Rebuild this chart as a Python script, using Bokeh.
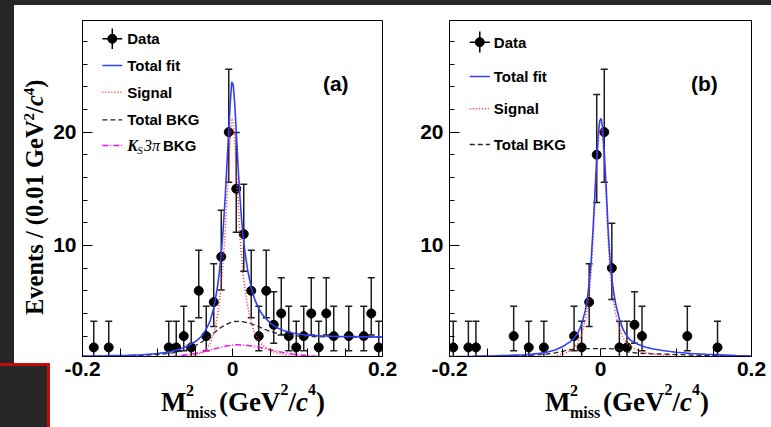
from bokeh.plotting import figure
from bokeh.models import Range1d, FixedTicker, Label, ColumnDataSource, Div
from bokeh.layouts import row, column
from bokeh.embed import file_html
from bokeh.resources import INLINE

# ---------------- DATA : panel (a) ----------------
a_x = [-0.185, -0.165, -0.085, -0.075, -0.065, -0.055, -0.045, -0.035, -0.025, -0.015,
       -0.005, 0.005, 0.015, 0.025, 0.035, 0.045, 0.055, 0.065, 0.075, 0.085,
       0.095, 0.105, 0.115, 0.125, 0.135, 0.155, 0.175, 0.185, 0.195]
a_n = [1, 1, 1, 1, 2, 1, 6, 2, 5, 9, 20, 15, 11, 6, 2, 6, 3, 4, 2, 1, 2, 4, 1, 4, 2, 2, 2, 4, 1]
a_lo = [0.17, 0.17, 0.17, 0.17, 0.71, 0.17, 3.62, 0.71, 2.84, 6.06, 15.57, 11.17, 7.73, 3.62, 0.71,
        3.62, 1.37, 2.09, 0.71, 0.17, 0.71, 2.09, 0.17, 2.09, 0.71, 0.71, 0.71, 2.09, 0.17]
a_hi = [3.30, 3.30, 3.30, 3.30, 4.64, 3.30, 9.58, 4.64, 8.38, 13.11, 25.54, 19.96, 15.41, 9.58, 4.64,
        9.58, 5.92, 7.16, 4.64, 3.30, 4.64, 7.16, 3.30, 7.16, 4.64, 4.64, 4.64, 7.16, 3.30]

curve_x = [-0.200, -0.170, -0.140, -0.120, -0.100, -0.090, -0.080, -0.070, -0.060, -0.050,
           -0.045, -0.040, -0.035, -0.030, -0.025, -0.020, -0.0175, -0.015, -0.0125, -0.010,
           -0.0075, -0.005, -0.003, -0.001, 0.001, 0.003, 0.005, 0.0075, 0.010, 0.0125,
           0.015, 0.0175, 0.020, 0.025, 0.030, 0.035, 0.040, 0.050, 0.060, 0.070,
           0.080, 0.090, 0.100, 0.120, 0.140, 0.160, 0.180, 0.200]
a_sig = [0.03, 0.03, 0.04, 0.05, 0.09, 0.11, 0.14, 0.19, 0.25, 0.35,
         0.43, 0.58, 0.85, 1.30, 2.20, 3.80, 5.00, 6.50, 8.50, 11.0,
         14.0, 17.0, 19.4, 21.2, 20.9, 19.2, 16.8, 13.6, 10.9, 8.7,
         7.0, 5.8, 4.7, 3.2, 2.2, 1.6, 1.2, 0.75, 0.50, 0.34,
         0.24, 0.17, 0.12, 0.07, 0.04, 0.03, 0.02, 0.01]
a_bkg = [0.20, 0.23, 0.27, 0.31, 0.37, 0.43, 0.52, 0.66, 0.88, 1.15,
         1.32, 1.52, 1.76, 2.00, 2.25, 2.55, 2.67, 2.78, 2.88, 2.97,
         3.05, 3.13, 3.19, 3.23, 3.26, 3.29, 3.30, 3.30, 3.29, 3.27,
         3.25, 3.22, 3.18, 3.09, 2.97, 2.83, 2.68, 2.42, 2.22, 2.10,
         2.03, 1.99, 1.97, 1.94, 1.93, 1.92, 1.91, 1.90]
a_tot = [0.23, 0.26, 0.31, 0.36, 0.46, 0.54, 0.66, 0.85, 1.13, 1.50,
         1.75, 2.10, 2.61, 3.30, 4.45, 6.35, 7.67, 9.28, 11.38, 13.97,
         17.05, 20.13, 22.59, 24.43, 24.16, 22.49, 20.10, 16.90, 14.19, 11.97,
         10.25, 9.02, 7.88, 6.29, 5.17, 4.43, 3.88, 3.17, 2.72, 2.44,
         2.27, 2.16, 2.09, 2.01, 1.97, 1.95, 1.93, 1.91]
a_ks = [0.00, 0.00, 0.01, 0.04, 0.10, 0.14, 0.20, 0.27, 0.36, 0.47,
        0.54, 0.61, 0.69, 0.77, 0.86, 0.94, 0.98, 1.02, 1.06, 1.10,
        1.13, 1.16, 1.18, 1.20, 1.21, 1.22, 1.23, 1.23, 1.22, 1.21,
        1.20, 1.19, 1.17, 1.13, 1.08, 1.02, 0.95, 0.80, 0.65, 0.52,
        0.42, 0.34, 0.27, 0.16, 0.08, 0.03, 0.01, 0.00]

# ---------------- DATA : panel (b) ----------------
b_x = [-0.195, -0.175, -0.165, -0.115, -0.095, -0.075, -0.035, -0.025, -0.015, -0.005,
       0.005, 0.015, 0.025, 0.035, 0.045, 0.055, 0.115, 0.155]
b_n = [1, 1, 1, 2, 1, 1, 2, 1, 5, 18, 20, 8, 1, 1, 3, 2, 2, 1]
b_lo = [0.17, 0.17, 0.17, 0.71, 0.17, 0.17, 0.71, 0.17, 2.84, 13.80, 15.57, 5.23, 0.17, 0.17,
        1.37, 0.71, 0.71, 0.17]
b_hi = [3.30, 3.30, 3.30, 4.64, 3.30, 3.30, 4.64, 3.30, 8.38, 23.32, 25.54, 11.95, 3.30, 3.30,
        5.92, 4.64, 4.64, 3.30]
b_sig = [0.02, 0.03, 0.04, 0.05, 0.07, 0.09, 0.12, 0.17, 0.26, 0.42,
         0.55, 0.72, 0.98, 1.40, 2.15, 3.40, 4.40, 5.70, 7.60, 10.4,
         13.6, 16.8, 18.9, 20.1, 20.3, 19.3, 17.3, 14.3, 10.6, 8.0,
         6.2, 5.0, 4.0, 2.7, 1.85, 1.35, 1.05, 0.75, 0.55, 0.42,
         0.33, 0.26, 0.21, 0.14, 0.10, 0.07, 0.05, 0.04]
b_bkg = [0.17, 0.19, 0.22, 0.25, 0.29, 0.32, 0.36, 0.42, 0.52, 0.66,
         0.74, 0.80, 0.84, 0.87, 0.88, 0.89, 0.90, 0.90, 0.90, 0.90,
         0.90, 0.90, 0.90, 0.90, 0.90, 0.90, 0.90, 0.90, 0.90, 0.89,
         0.88, 0.87, 0.85, 0.80, 0.72, 0.64, 0.57, 0.50, 0.46, 0.44,
         0.42, 0.40, 0.37, 0.33, 0.30, 0.27, 0.24, 0.21]
b_tot = [0.19, 0.22, 0.26, 0.30, 0.36, 0.41, 0.48, 0.59, 0.78, 1.08,
         1.29, 1.52, 1.82, 2.27, 3.03, 4.29, 5.30, 6.60, 8.50, 11.30,
         14.50, 17.70, 19.80, 21.00, 21.20, 20.20, 18.20, 15.20, 11.50, 8.89,
         7.08, 5.87, 4.85, 3.50, 2.57, 1.99, 1.62, 1.25, 1.01, 0.86,
         0.75, 0.66, 0.58, 0.47, 0.40, 0.34, 0.29, 0.25]

x_major = [-0.2, 0.0, 0.2]
x_minor = [-0.15, -0.1, -0.05, 0.05, 0.1, 0.15]
x_labels = {-0.2: "-0.2", 0: "0", 0.2: "0.2"}
y_major = [10, 20]
y_minor = [2, 4, 6, 8, 12, 14, 16, 18, 22, 24, 26, 28]

# ---------------- STYLE ----------------
DARK = "#272727"
BLUE = "#2f3ff5"
RED = "#ff3030"
MAG = "#ff00ff"
BOXRED = "#c00d0d"
XR = (-0.2, 0.2)
YR = (0.2, 29.85)
FT, FB, FW = 20.0, 356.0, 302.0   # frame top/bottom (page px), frame width
SANS = "Liberation Sans"
SERIF = "Liberation Serif"
TOP_H = 380      # panel row: page y 5..385
BOT_H = 42       # title strip: page y 385..427
BL = 0.8375      # baseline offset (em) of Liberation Serif with line-height 1


def sx2d(sx, fl):
    return XR[0] + (sx - fl) / FW * (XR[1] - XR[0])


def sy2d(sy):
    return YR[0] + (FB - sy) / (FB - FT) * (YR[1] - YR[0])


def run(p, fl, sx, sy, text, size, font=SANS, style="bold"):
    # sy is the wanted baseline; Bokeh's label box sits ~0.37em lower, so lift it
    p.add_layout(Label(x=sx2d(sx, fl), y=sy2d(sy - 0.37 * size), text=text, text_font=font,
                       text_font_size=f"{size}px", text_font_style=style,
                       text_color="black", text_align="left", text_baseline="alphabetic"))


def make_panel(width, bl, br):
    p = figure(width=width, height=TOP_H, x_range=Range1d(*XR), y_range=Range1d(*YR),
               output_backend="svg", toolbar_location=None,
               min_border_left=bl, min_border_right=br, min_border_top=15,
               min_border_bottom=29, margin=(0, 0, 0, 0))
    p.background_fill_color = "white"
    p.border_fill_color = "white"
    p.grid.visible = False
    p.outline_line_color = "black"
    p.outline_line_width = 1
    xa = p.xaxis[0]
    xa.ticker = FixedTicker(ticks=x_major, minor_ticks=x_minor)
    xa.major_label_overrides = x_labels
    xa.major_tick_in = 8
    xa.major_tick_out = 0
    xa.minor_tick_in = 8
    xa.minor_tick_out = 0
    xa.major_label_standoff = 5
    ya = p.yaxis[0]
    ya.ticker = FixedTicker(ticks=y_major, minor_ticks=y_minor)
    ya.major_tick_in = 10
    ya.major_tick_out = 0
    ya.minor_tick_in = 5
    ya.minor_tick_out = 0
    ya.major_label_standoff = 6
    for ax in (xa, ya):
        ax.axis_line_color = "black"
        ax.major_tick_line_color = "black"
        ax.minor_tick_line_color = "black"
        ax.major_label_text_font = SANS
        ax.major_label_text_font_style = "bold"
        ax.major_label_text_font_size = "21px"
        ax.major_label_text_color = "black"
    return p


def draw_data(p, xs, ns, lo, hi):
    src = ColumnDataSource(dict(x=xs, n=ns, lo=lo, hi=hi))
    p.segment(x0="x", y0="lo", x1="x", y1="hi", source=src, line_color="#1e1e1e", line_width=1.5)
    p.scatter(x="x", y="hi", source=src, marker="dash", size=7, line_color="#1e1e1e", line_width=1.5)
    p.scatter(x="x", y="lo", source=src, marker="dash", size=7, line_color="#1e1e1e", line_width=1.5)
    p.scatter(x="x", y="n", source=src, marker="circle", size=9, color="black")


def legend_line(p, fl, x0, x1, sy, **kw):
    p.line([sx2d(x0, fl), sx2d(x1, fl)], [sy2d(sy), sy2d(sy)], **kw)


def span(x, base, html, size, style="bold"):
    top = base - BL * size
    return (f'<span style="position:absolute;left:{x}px;top:{top:.1f}px;white-space:nowrap;'
            f"font-family:'{SERIF}';font-weight:bold;font-style:{'italic' if 'italic' in style else 'normal'};"
            f'font-size:{size}px;line-height:1;color:#000;">{html}</span>')


SUP = '<span style="position:relative;top:-{r}px;font-size:{s}px;">{t}</span>'


def x_title_html(m0):
    base = 412 - 385        # main baseline inside the strip
    s = span(m0, base, "M", 27)
    s += span(m0 + 25, 396 - 385, "2", 16)
    s += span(m0 + 25, 418 - 385, "miss", 16)
    s += span(m0 + 58, base, "(GeV" + SUP.format(r=16.5, s=16, t="2") + "/<i>c</i>"
              + SUP.format(r=16.5, s=16, t="4") + ")", 27)
    return s


# ================= left strip (y-axis title) : page x 0..50, y 5..385 =================
ytitle = ("Events / (0.01 GeV" + SUP.format(r=9, s=15, t="2") + "/<i>c</i>"
          + SUP.format(r=9, s=15, t="4") + ")")
left_html = (
    f'<div style="position:relative;width:50px;height:{TOP_H}px;overflow:hidden;background:#ffffff;">'
    f'<div style="position:absolute;left:0;top:0;width:14px;height:{TOP_H}px;background:{DARK};"></div>'
    f'<div style="position:absolute;left:-10px;top:358px;width:60px;height:80px;box-sizing:border-box;'
    f'background:{DARK};border:3px solid {BOXRED};"></div>'
    f'<div style="position:absolute;left:{43 - BL * 24.5:.1f}px;top:310px;transform-origin:0 0;'
    f"transform:rotate(-90deg);white-space:nowrap;font-family:'{SERIF}';font-weight:bold;"
    f'font-size:24.5px;line-height:1;color:#000;">{ytitle}</div>'
    '</div>')
div_left = Div(text=left_html, width=50, height=TOP_H, margin=(0, 0, 0, 0))

# ================= panel (a) : page x 50..400 =================
FLA = 80
pa = make_panel(350, 30, 18)
draw_data(pa, a_x, a_n, a_lo, a_hi)
pa.line(curve_x, a_ks, line_color=MAG, line_width=1.5, line_dash="6 2 1 2")
pa.line(curve_x, a_bkg, line_color="#222222", line_width=1.3, line_dash="5 3")
pa.line(curve_x, a_sig, line_color=RED, line_width=1.6, line_dash="1 2")
pa.line(curve_x, a_tot, line_color=BLUE, line_width=1.6)

rows_a = [38.3, 65.0, 91.7, 119.3, 145.0]
legend_line(pa, FLA, 100, 120, rows_a[0], line_color="black", line_width=1.5)
pa.segment(x0=[sx2d(110, FLA)], y0=[sy2d(28)], x1=[sx2d(110, FLA)], y1=[sy2d(48.5)],
           line_color="black", line_width=1.5)
pa.scatter([sx2d(110, FLA)], [sy2d(rows_a[0])], size=9, color="black")
legend_line(pa, FLA, 100, 120, rows_a[1], line_color=BLUE, line_width=1.6)
legend_line(pa, FLA, 100, 120, rows_a[2], line_color=RED, line_width=1.6, line_dash="1 2")
legend_line(pa, FLA, 100, 120, rows_a[3], line_color="#222222", line_width=1.3, line_dash="5 3")
legend_line(pa, FLA, 100, 120, rows_a[4], line_color=MAG, line_width=1.5, line_dash="6 2 1 2")
for t, r in zip(["Data", "Total fit", "Signal", "Total BKG"], rows_a):
    run(pa, FLA, 125, r + 5.5, t, 15)
run(pa, FLA, 125, rows_a[4] + 5.5, "K", 16, SERIF, "bold italic")
run(pa, FLA, 135, rows_a[4] + 9.0, "S", 11, SERIF, "italic")
run(pa, FLA, 142, rows_a[4] + 5.5, "3\u03c0", 16, SERIF, "italic")
run(pa, FLA, 161, rows_a[4] + 5.5, "BKG", 15)
run(pa, FLA, 322, 91, "(a)", 21)

# ================= panel (b) : page x 400..771 =================
FLB = 449
pb = make_panel(371, 49, 20)
draw_data(pb, b_x, b_n, b_lo, b_hi)
pb.line(curve_x, b_bkg, line_color="#222222", line_width=1.3, line_dash="5 3")
pb.line(curve_x, b_sig, line_color=RED, line_width=1.6, line_dash="1 2")
pb.line(curve_x, b_tot, line_color=BLUE, line_width=1.6)

rows_b = [41.7, 76.0, 108.3, 144.0]
legend_line(pb, FLB, 469.3, 489.3, rows_b[0], line_color="black", line_width=1.5)
pb.segment(x0=[sx2d(479.3, FLB)], y0=[sy2d(31)], x1=[sx2d(479.3, FLB)], y1=[sy2d(52)],
           line_color="black", line_width=1.5)
pb.scatter([sx2d(479.3, FLB)], [sy2d(rows_b[0])], size=9, color="black")
legend_line(pb, FLB, 469.3, 489.3, rows_b[1], line_color=BLUE, line_width=1.6)
legend_line(pb, FLB, 469.3, 489.3, rows_b[2], line_color=RED, line_width=1.6, line_dash="1 2")
legend_line(pb, FLB, 469.3, 489.3, rows_b[3], line_color="#222222", line_width=1.3, line_dash="5 3")
for t, r in zip(["Data", "Total fit", "Signal", "Total BKG"], rows_b):
    run(pb, FLB, 493.3, r + 5.5, t, 15)
run(pb, FLB, 690.5, 91, "(b)", 21)

# ================= bottom strip (x-axis titles) : page y 385..427 =================
bottom_html = (
    f'<div style="position:relative;width:771px;height:{BOT_H}px;overflow:visible;">'
    f'<div style="position:absolute;left:0;top:0;width:771px;height:{BOT_H}px;overflow:hidden;background:#ffffff;">'
    f'<div style="position:absolute;left:0;top:0;width:14px;height:{BOT_H}px;background:{DARK};"></div>'
    f'<div style="position:absolute;left:-10px;top:-30px;width:60px;height:120px;box-sizing:border-box;'
    f'background:{DARK};border:3px solid {BOXRED};"></div>'
    '</div>'
    + x_title_html(161) + x_title_html(545) +
    '</div>')
div_bottom = Div(text=bottom_html, width=771, height=BOT_H, margin=(0, 0, 0, 0),
                 styles={"overflow": "visible"})

top_row = row(div_left, pa, pb, margin=(5, 0, 0, 0), styles={"background-color": "white"})
root = column(top_row, div_bottom, styles={"background-color": DARK})
open("out.html", "w").write(file_html(root, INLINE))
